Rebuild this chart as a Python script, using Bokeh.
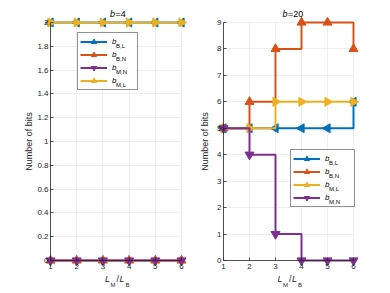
import math
from bokeh.plotting import figure
from bokeh.layouts import row
from bokeh.models import Label, Legend, LegendItem, FixedTicker, BoxAnnotation
from bokeh.embed import file_html
from bokeh.resources import INLINE

# ---------------- data ----------------
ratio = [1, 2, 3, 4, 5, 6]
b4_BL = [2, 2, 2, 2, 2, 2]
b4_BN = [0, 0, 0, 0, 0, 0]
b4_MN = [0, 0, 0, 0, 0, 0]
b4_ML = [2, 2, 2, 2, 2, 2]
b20_BL = [5, 5, 5, 5, 5, 6]
b20_BN = [5, 6, 8, 9, 9, 8]
b20_ML = [5, 5, 6, 6, 6, 6]
b20_MN = [5, 4, 1, 0, 0, 0]
x_ticks = [1, 2, 3, 4, 5, 6]
y_ticks_4 = [0, 0.2, 0.4, 0.6, 0.8, 1, 1.2, 1.4, 1.6, 1.8, 2]
y_labels_4 = ["0", "0.2", "0.4", "0.6", "0.8", "1", "1.2", "1.4", "1.6", "1.8", "2"]
y_ticks_20 = [0, 1, 2, 3, 4, 5, 6, 7, 8, 9]
y_labels_20 = ["0", "1", "2", "3", "4", "5", "6", "7", "8", "9"]

C_BL, C_BN, C_ML, C_MN = "#0072BD", "#D95319", "#EDB120", "#7E2F8E"
TXT = "#262626"
FONT = "Liberation Sans"
H = 292          # figure (= frame) height
YTOP = 22        # page y of the top value
YBOT = 260       # page y of zero

MK = {"BL": ("triangle", math.pi / 2), "BN": ("triangle", 0.0),
      "MN": ("inverted_triangle", 0.0), "ML": ("triangle", -math.pi / 2)}


def make_panel(series, ymax, yticks, ylabels, title_num, fig_left, W,
               x1_page, x6_page, legend_box, legend_lw, leg_subs, ylab_standoff):
    xpx = (x6_page - x1_page) / 5.0
    ypx = (YBOT - YTOP) / ymax
    xl = x1_page - fig_left          # frame px of x=1
    p = figure(frame_width=W, frame_height=H,
               x_range=(1 - xl / xpx, 6 + (W - xl - 5 * xpx) / xpx),
               y_range=(0 - (H - YBOT) / ypx, ymax + YTOP / ypx),
               output_backend="svg", toolbar_location=None,
               min_border_left=0, min_border_right=0,
               min_border_top=0, min_border_bottom=0)
    p.outline_line_color = None
    p.background_fill_color = "white"
    p.border_fill_color = "white"

    xt = FixedTicker(ticks=x_ticks)
    yt = FixedTicker(ticks=yticks)
    for ax in (p.xaxis[0], p.yaxis[0]):
        ax.axis_line_color = TXT
        ax.axis_line_width = 0.8
        ax.major_tick_line_color = TXT
        ax.major_tick_line_width = 0.8
        ax.major_tick_in = 3
        ax.major_tick_out = 0
        ax.minor_tick_line_color = None
        ax.major_label_text_font = FONT
        ax.major_label_text_font_size = "8px"
        ax.major_label_text_color = TXT
    xa, ya = p.xaxis[0], p.yaxis[0]
    xa.ticker = xt
    xa.fixed_location = 0
    xa.bounds = (1, 6)
    xa.major_label_standoff = 3
    ya.ticker = yt
    ya.major_label_overrides = {t: l for t, l in zip(yticks, ylabels)}
    ya.fixed_location = 1
    ya.bounds = (0, ymax)
    ya.major_label_standoff = 2
    ya.axis_label = "Number of bits"
    ya.axis_label_text_font = FONT
    ya.axis_label_text_font_size = "9px"
    ya.axis_label_text_font_style = "normal"
    ya.axis_label_text_color = TXT
    ya.axis_label_standoff = ylab_standoff

    p.xgrid[0].ticker = xt
    p.ygrid[0].ticker = yt
    for g in (p.xgrid[0], p.ygrid[0]):
        g.grid_line_color = "#e6e6e6"
        g.grid_line_width = 0.7
    p.xgrid[0].bounds = (1, 6)
    p.xgrid[0].cross_bounds = (0, ymax)
    p.ygrid[0].bounds = (0, ymax)
    p.ygrid[0].cross_bounds = (1, 6)

    # helper: page pixel -> frame screen coords (y measured from bottom)
    def sx(px):
        return px - fig_left

    def sy(py):
        return H - py

    bx, btop, bw = legend_box
    PADL, GH = 2, 13
    bh = 2 * PADL + 4 * GH
    p.add_layout(BoxAnnotation(left=sx(bx), right=sx(bx + bw), top=sy(btop), bottom=sy(btop + bh),
                               left_units="screen", right_units="screen",
                               top_units="screen", bottom_units="screen",
                               fill_color="white", fill_alpha=1, line_color=None,
                               level="underlay"))

    items = {}
    for key, vals, col in series:
        lr = p.step(ratio, vals, mode="after", line_color=col, line_width=2)
        mtype, ang = MK[key]
        sr = p.scatter(ratio, vals, marker=mtype, angle=ang, size=9,
                       fill_color=col, line_color=col, line_width=1)
        items[key] = (lr, sr)

    order = [k for k, _ in leg_subs]
    leg = Legend(items=[LegendItem(label="b", renderers=list(items[k])) for k in order],
                 location=(sx(bx), sy(btop + bh)), padding=PADL, spacing=0, margin=0,
                 glyph_width=27, glyph_height=GH, label_height=GH,
                 label_width=legend_lw, label_standoff=5,
                 label_text_font=FONT, label_text_font_size="8px",
                 label_text_font_style="italic", label_text_color="black",
                 border_line_color=TXT, border_line_width=0.8,
                 background_fill_alpha=0)
    p.add_layout(leg)

    def lab(px, py, text, size, style="normal", align="left", color=TXT):
        p.add_layout(Label(x=sx(px), y=sy(py), x_units="screen", y_units="screen",
                           text=text, text_font=FONT, text_font_size=size,
                           text_font_style=style, text_align=align,
                           text_baseline="middle", text_color=color))

    # legend subscripts
    for i, (_, sub) in enumerate(leg_subs):
        lab(bx + PADL + 27 + 5 + 4.5, btop + PADL + GH / 2 + GH * i + 2.5, sub, "6px", color="black")

    cx = x1_page + 5 * xpx / 2 + 1
    # title  b=N
    lab(cx - 2, 13, "b", "9px", "italic", "right", "black")
    lab(cx - 1.5, 13, "=" + title_num, "9px", "normal", "left", "black")

    # x-axis label  L_M / L_B
    lab(cx - 12, 278, "L", "9px", "italic")
    lab(cx - 6.5, 284, "M", "6px")
    lab(cx - 0.5, 278, "/", "9px")
    lab(cx + 2.5, 278, "L", "9px", "italic")
    lab(cx + 8.5, 284, "B", "6px")
    return p


p1 = make_panel([("BL", b4_BL, C_BL), ("BN", b4_BN, C_BN), ("MN", b4_MN, C_MN), ("ML", b4_ML, C_ML)],
                2, y_ticks_4, y_labels_4, "4", 0, 195, 50, 181, (77, 34, 59), 23,
                [("BL", "B,L"), ("BN", "B,N"), ("MN", "M,N"), ("ML", "M,L")], 0)
p2 = make_panel([("BL", b20_BL, C_BL), ("BN", b20_BN, C_BN), ("ML", b20_ML, C_ML), ("MN", b20_MN, C_MN)],
                9, y_ticks_20, y_labels_20, "20", 195, 194, 223, 353, (290, 151, 63), 27,
                [("BL", "B,L"), ("BN", "B,N"), ("ML", "M,L"), ("MN", "M,N")], 4)

layout = row(p1, p2)
layout.spacing = 0
open("out.html", "w").write(file_html(layout, INLINE))
